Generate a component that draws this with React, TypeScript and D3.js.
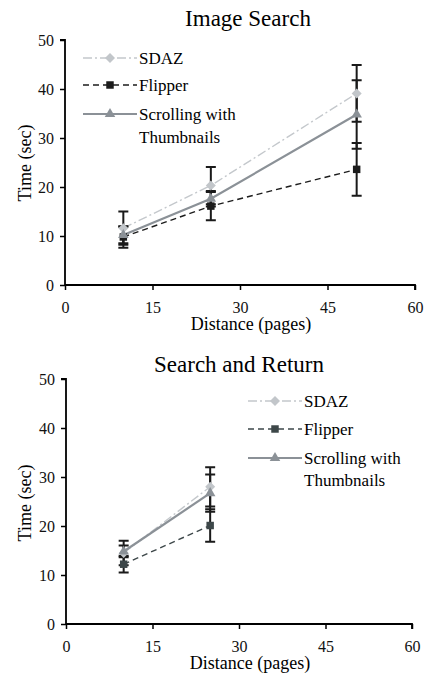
import * as d3 from "d3";
import {useRef, useEffect} from "react";

// x positions (pages) and axis ticks
const distances = [10, 25, 50];
const returnDistances = [10, 25];
const xTicks = [0, 15, 30, 45, 60];
const yTicks = [0, 10, 20, 30, 40, 50];
const seriesNames = ["SDAZ", "Flipper", "Scrolling with", "Thumbnails"];

// Image Search (sec)
const imageSdaz = [11.6, 20.3, 39.1];
const imageSdazErr = [3.4, 3.8, 5.8];
const imageFlipper = [9.8, 16.1, 23.6];
const imageFlipperErr = [2.2, 2.9, 5.4];
const imageScroll = [10.2, 17.6, 34.8];
const imageScrollErr = [1.7, 1.6, 7.0];

// Search and Return (sec)
const returnSdaz = [14.5, 28.0];
const returnSdazErr = [2.5, 4.0];
const returnFlipper = [12.2, 20.1];
const returnFlipperErr = [1.7, 3.3];
const returnScroll = [14.8, 26.7];
const returnScrollErr = [1.2, 3.8];

const FONT = "\"Liberation Serif\", \"Times New Roman\", \"DejaVu Serif\", serif";

const charts = [
    {
        title: "Image Search", titleX: 248, titleY: 26,
        x0: 65, x1: 415, yTop: 40, yBottom: 285,
        labelY: 163, xLabelY: 330,
        legendX: 83, legendRows: [58, 85, 114, 137],
        flipperColor: "#1c1c1c",
        xs: distances,
        series: [
            {key: "sdaz", values: imageSdaz, err: imageSdazErr},
            {key: "flipper", values: imageFlipper, err: imageFlipperErr},
            {key: "scroll", values: imageScroll, err: imageScrollErr},
        ],
    },
    {
        title: "Search and Return", titleX: 239, titleY: 372,
        x0: 66, x1: 412, yTop: 379, yBottom: 624,
        labelY: 503, xLabelY: 669,
        legendX: 248, legendRows: [401, 429, 458, 480],
        flipperColor: "#3d4749",
        xs: returnDistances,
        series: [
            {key: "sdaz", values: returnSdaz, err: returnSdazErr},
            {key: "flipper", values: returnFlipper, err: returnFlipperErr},
            {key: "scroll", values: returnScroll, err: returnScrollErr},
        ],
    },
];

const styleFor = (key, flipperColor) => {
    if (key === "sdaz") return {stroke: "#c4c8cc", fill: "#c2c6ca", width: 1.4, dash: "9,3,2,3", symbol: "diamond"};
    if (key === "flipper") return {stroke: flipperColor, fill: flipperColor, width: 1.4, dash: "6,4", symbol: "square"};
    return {stroke: "#8b9197", fill: "#8b9197", width: 2.2, dash: null, symbol: "triangle"};
};

const drawMarker = (g, kind, x, y, color) => {
    if (kind === "diamond") {
        g.append("path")
            .attr("d", d3.symbol(d3.symbolSquare, 50)())
            .attr("transform", `translate(${x},${y}) rotate(45)`)
            .attr("fill", color);
    } else if (kind === "square") {
        g.append("path")
            .attr("d", d3.symbol(d3.symbolSquare, 56)())
            .attr("transform", `translate(${x},${y})`)
            .attr("fill", color);
    } else {
        g.append("path")
            .attr("d", d3.symbol(d3.symbolTriangle, 48)())
            .attr("transform", `translate(${x},${y})`)
            .attr("fill", color);
    }
};

const App = () => {
    const container = useRef();

    useEffect(() => {
        const svg = d3.select(container.current);
        svg.selectAll("*").remove();

        charts.forEach(c => {
            const x = d3.scaleLinear([0, 60], [c.x0, c.x1]);
            const y = d3.scaleLinear([0, 50], [c.yBottom, c.yTop]);
            const g = svg.append("g").style("font-family", FONT);

            // title
            g.append("text")
                .attr("x", c.titleX).attr("y", c.titleY)
                .attr("text-anchor", "middle")
                .style("font-family", FONT).attr("font-size", 23)
                .text(c.title);

            // axes
            g.append("g")
                .attr("transform", `translate(${c.x0},0)`)
                .call(d3.axisLeft(y).tickValues(yTicks).tickSize(5).tickPadding(6))
                .call(a => a.attr("font-family", null))
                .call(a => a.select(".domain").attr("stroke-width", 1.8).attr("d", `M-5,${c.yTop}H0V${c.yBottom}`))
                .call(a => a.selectAll(".tick line").attr("stroke-width", 1.5))
                .call(a => a.selectAll("text").style("font-family", FONT).attr("font-size", 16).attr("fill", "#111"));

            g.append("g")
                .attr("transform", `translate(0,${c.yBottom})`)
                .call(d3.axisBottom(x).tickValues(xTicks).tickSize(5).tickPadding(12))
                .call(a => a.attr("font-family", null))
                .call(a => a.select(".domain").attr("stroke-width", 1.8).attr("d", `M${c.x0},0H${c.x1}V5`))
                .call(a => a.selectAll(".tick line").attr("stroke-width", 1.5))
                .call(a => a.selectAll("text").style("font-family", FONT).attr("font-size", 16).attr("fill", "#111"));

            // axis titles
            g.append("text")
                .attr("transform", `translate(31,${c.labelY}) rotate(-90)`)
                .attr("text-anchor", "middle")
                .style("font-family", FONT).attr("font-size", 18)
                .text("Time (sec)");
            g.append("text")
                .attr("x", (c.x0 + c.x1) / 2 + 11).attr("y", c.xLabelY)
                .attr("text-anchor", "middle")
                .style("font-family", FONT).attr("font-size", 18)
                .text("Distance (pages)");

            // lines
            c.series.forEach(s => {
                const st = styleFor(s.key, c.flipperColor);
                const line = d3.line().x((d, i) => x(c.xs[i])).y(d => y(d));
                g.append("path")
                    .attr("d", line(s.values))
                    .attr("fill", "none")
                    .attr("stroke", st.stroke)
                    .attr("stroke-width", st.width)
                    .attr("stroke-dasharray", st.dash);
            });

            // error bars
            c.series.forEach(s => {
                s.values.forEach((v, i) => {
                    const cx = x(c.xs[i]);
                    const lo = y(v - s.err[i]);
                    const hi = y(v + s.err[i]);
                    g.append("path")
                        .attr("d", `M${cx},${lo}V${hi}M${cx - 5},${lo}H${cx + 5}M${cx - 5},${hi}H${cx + 5}`)
                        .attr("fill", "none")
                        .attr("stroke", "#1a1a1a")
                        .attr("stroke-width", 2);
                });
            });

            // markers
            c.series.forEach(s => {
                const st = styleFor(s.key, c.flipperColor);
                s.values.forEach((v, i) => drawMarker(g, st.symbol, x(c.xs[i]), y(v), st.fill));
            });

            // legend
            const lx0 = c.legendX, lx1 = c.legendX + 54, lxm = c.legendX + 27;
            c.series.forEach((s, i) => {
                const st = styleFor(s.key, c.flipperColor);
                const ry = c.legendRows[i];
                g.append("line")
                    .attr("x1", lx0).attr("x2", lx1).attr("y1", ry).attr("y2", ry)
                    .attr("stroke", st.stroke)
                    .attr("stroke-width", st.width)
                    .attr("stroke-dasharray", st.dash);
                drawMarker(g, st.symbol, lxm, ry, st.fill);
            });
            seriesNames.forEach((name, i) => {
                g.append("text")
                    .attr("x", lx1 + 2).attr("y", c.legendRows[i])
                    .attr("dy", "0.35em")
                    .style("font-family", FONT).attr("font-size", 17)
                    .text(name);
            });
        });
    }, []);

    return (
        <svg ref={container} width={424} height={673}
             style={{position: "absolute", left: 0, top: 0, background: "#fff"}}/>
    );
};

export default App;
